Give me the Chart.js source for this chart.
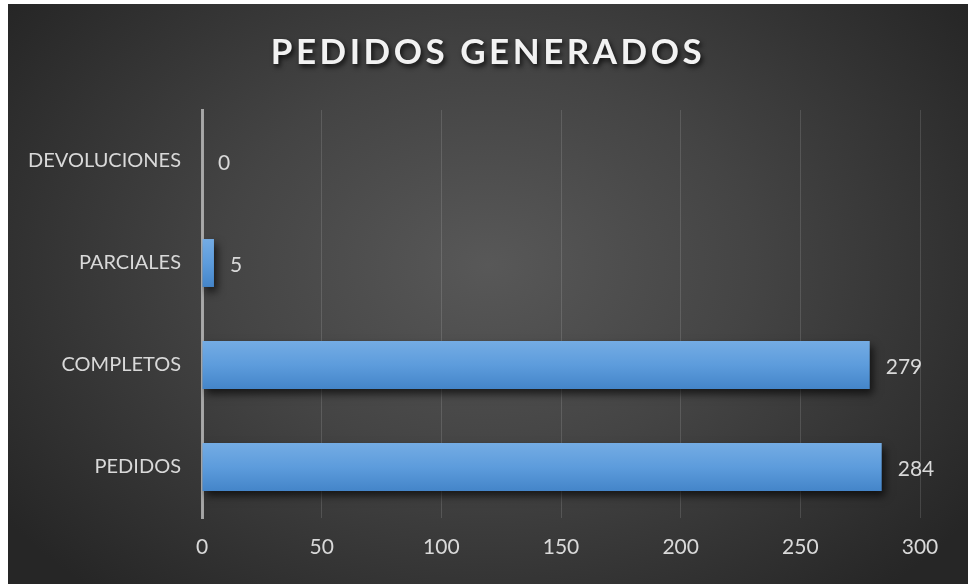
<!DOCTYPE html>
<html>
<head>
<meta charset="utf-8">
<script src="https://cdn.jsdelivr.net/npm/chart.js@4.4.1/dist/chart.umd.min.js"></script>
<style>
  body { margin: 0; background: #fff; }
  #caja {
    position: absolute; left: 8px; top: 4px; width: 960px; height: 580px;
    background: radial-gradient(ellipse 62% 75% at 50% 45%, #585858 0%, #444 45%, #262626 100%);
  }
</style>
</head>
<body>
<div id="caja"><canvas id="myChart" width="960" height="580"></canvas></div>
<script>
const titulo = "PEDIDOS GENERADOS";
const etiquetas = ["DEVOLUCIONES", "PARCIALES", "COMPLETOS", "PEDIDOS"];
const valores = [0, 5, 279, 284];
const ejeMax = 300;
const ejePaso = 50;

// titulo con espaciado y sombra, Chart.js no trae letterSpacing en el title
const tituloPlugin = {
  id: "tituloPlugin",
  afterDraw(chart) {
    const ctx = chart.ctx;
    ctx.save();
    ctx.font = "bold 35px Lato";
    ctx.letterSpacing = "3.5px";
    ctx.textAlign = "center";
    ctx.textBaseline = "middle";
    ctx.shadowColor = "rgba(0,0,0,0.75)";
    ctx.shadowBlur = 5;
    ctx.shadowOffsetX = 2;
    ctx.shadowOffsetY = 3;
    ctx.fillStyle = "#f2f2f2";
    ctx.fillText(titulo, chart.width / 2, 49);
    ctx.restore();
  },
};

const sombraPlugin = {
  id: "sombraPlugin",
  beforeDatasetsDraw(chart) {
    const ctx = chart.ctx;
    ctx.save();
    ctx.shadowColor = "rgba(0,0,0,0.65)";
    ctx.shadowBlur = 8;
    ctx.shadowOffsetX = 3;
    ctx.shadowOffsetY = 5;
  },
  afterDatasetsDraw(chart) {
    const ctx = chart.ctx;
    ctx.restore();
    // etiquetas de valor
    const meta = chart.getDatasetMeta(0);
    ctx.save();
    ctx.font = "21px Lato";
    ctx.fillStyle = "#d9d9d9";
    ctx.textBaseline = "middle";
    ctx.textAlign = "left";
    meta.data.forEach((bar, i) => {
      ctx.fillText(valores[i], bar.x + 16, bar.y + 2);
    });
    ctx.restore();
  },
};

function degradado(context) {
  const chart = context.chart;
  const { ctx, chartArea, scales } = chart;
  if (!chartArea || !scales.y) return "#5b9bd5";
  const paso = chartArea.height / etiquetas.length;
  const h = paso * 0.47;
  const yc = scales.y.getPixelForValue(context.dataIndex);
  const g = ctx.createLinearGradient(0, yc - h / 2, 0, yc + h / 2);
  g.addColorStop(0, "#74ace4");
  g.addColorStop(0.5, "#5d9cdc");
  g.addColorStop(1, "#4485c9");
  return g;
}

const ctx = document.getElementById("myChart");

new Chart(ctx, {
  type: "bar",
  data: {
    labels: etiquetas,
    datasets: [
      {
        label: "Pedidos",
        data: valores,
        backgroundColor: degradado,
        borderWidth: 0,
        categoryPercentage: 1,
        barPercentage: 0.47,
      },
    ],
  },
  plugins: [tituloPlugin, sombraPlugin],
  options: {
    indexAxis: "y",
    responsive: false,
    animation: false,
    layout: { padding: { top: 106, right: 48, left: 8, bottom: 0 } },
    plugins: {
      legend: { display: false },
      title: { display: false },
      tooltip: { enabled: false },
    },
    scales: {
      x: {
        min: 0,
        max: ejeMax,
        ticks: { stepSize: ejePaso, color: "#d9d9d9", font: { family: "Lato", size: 21 }, padding: 17 },
        grid: { color: "rgba(255,255,255,0.13)", lineWidth: 1, drawTicks: false },
        border: { display: false },
        afterFit(s) { s.height = 66; },
      },
      y: {
        ticks: { color: "#d9d9d9", font: { family: "Lato", size: 20 }, padding: 21 },
        grid: { display: false, drawTicks: false },
        border: { display: true, color: "rgba(190,190,190,0.8)", width: 3 },
        afterFit(s) { s.width = 186; },
      },
    },
  },
});
</script>
</body>
</html>
